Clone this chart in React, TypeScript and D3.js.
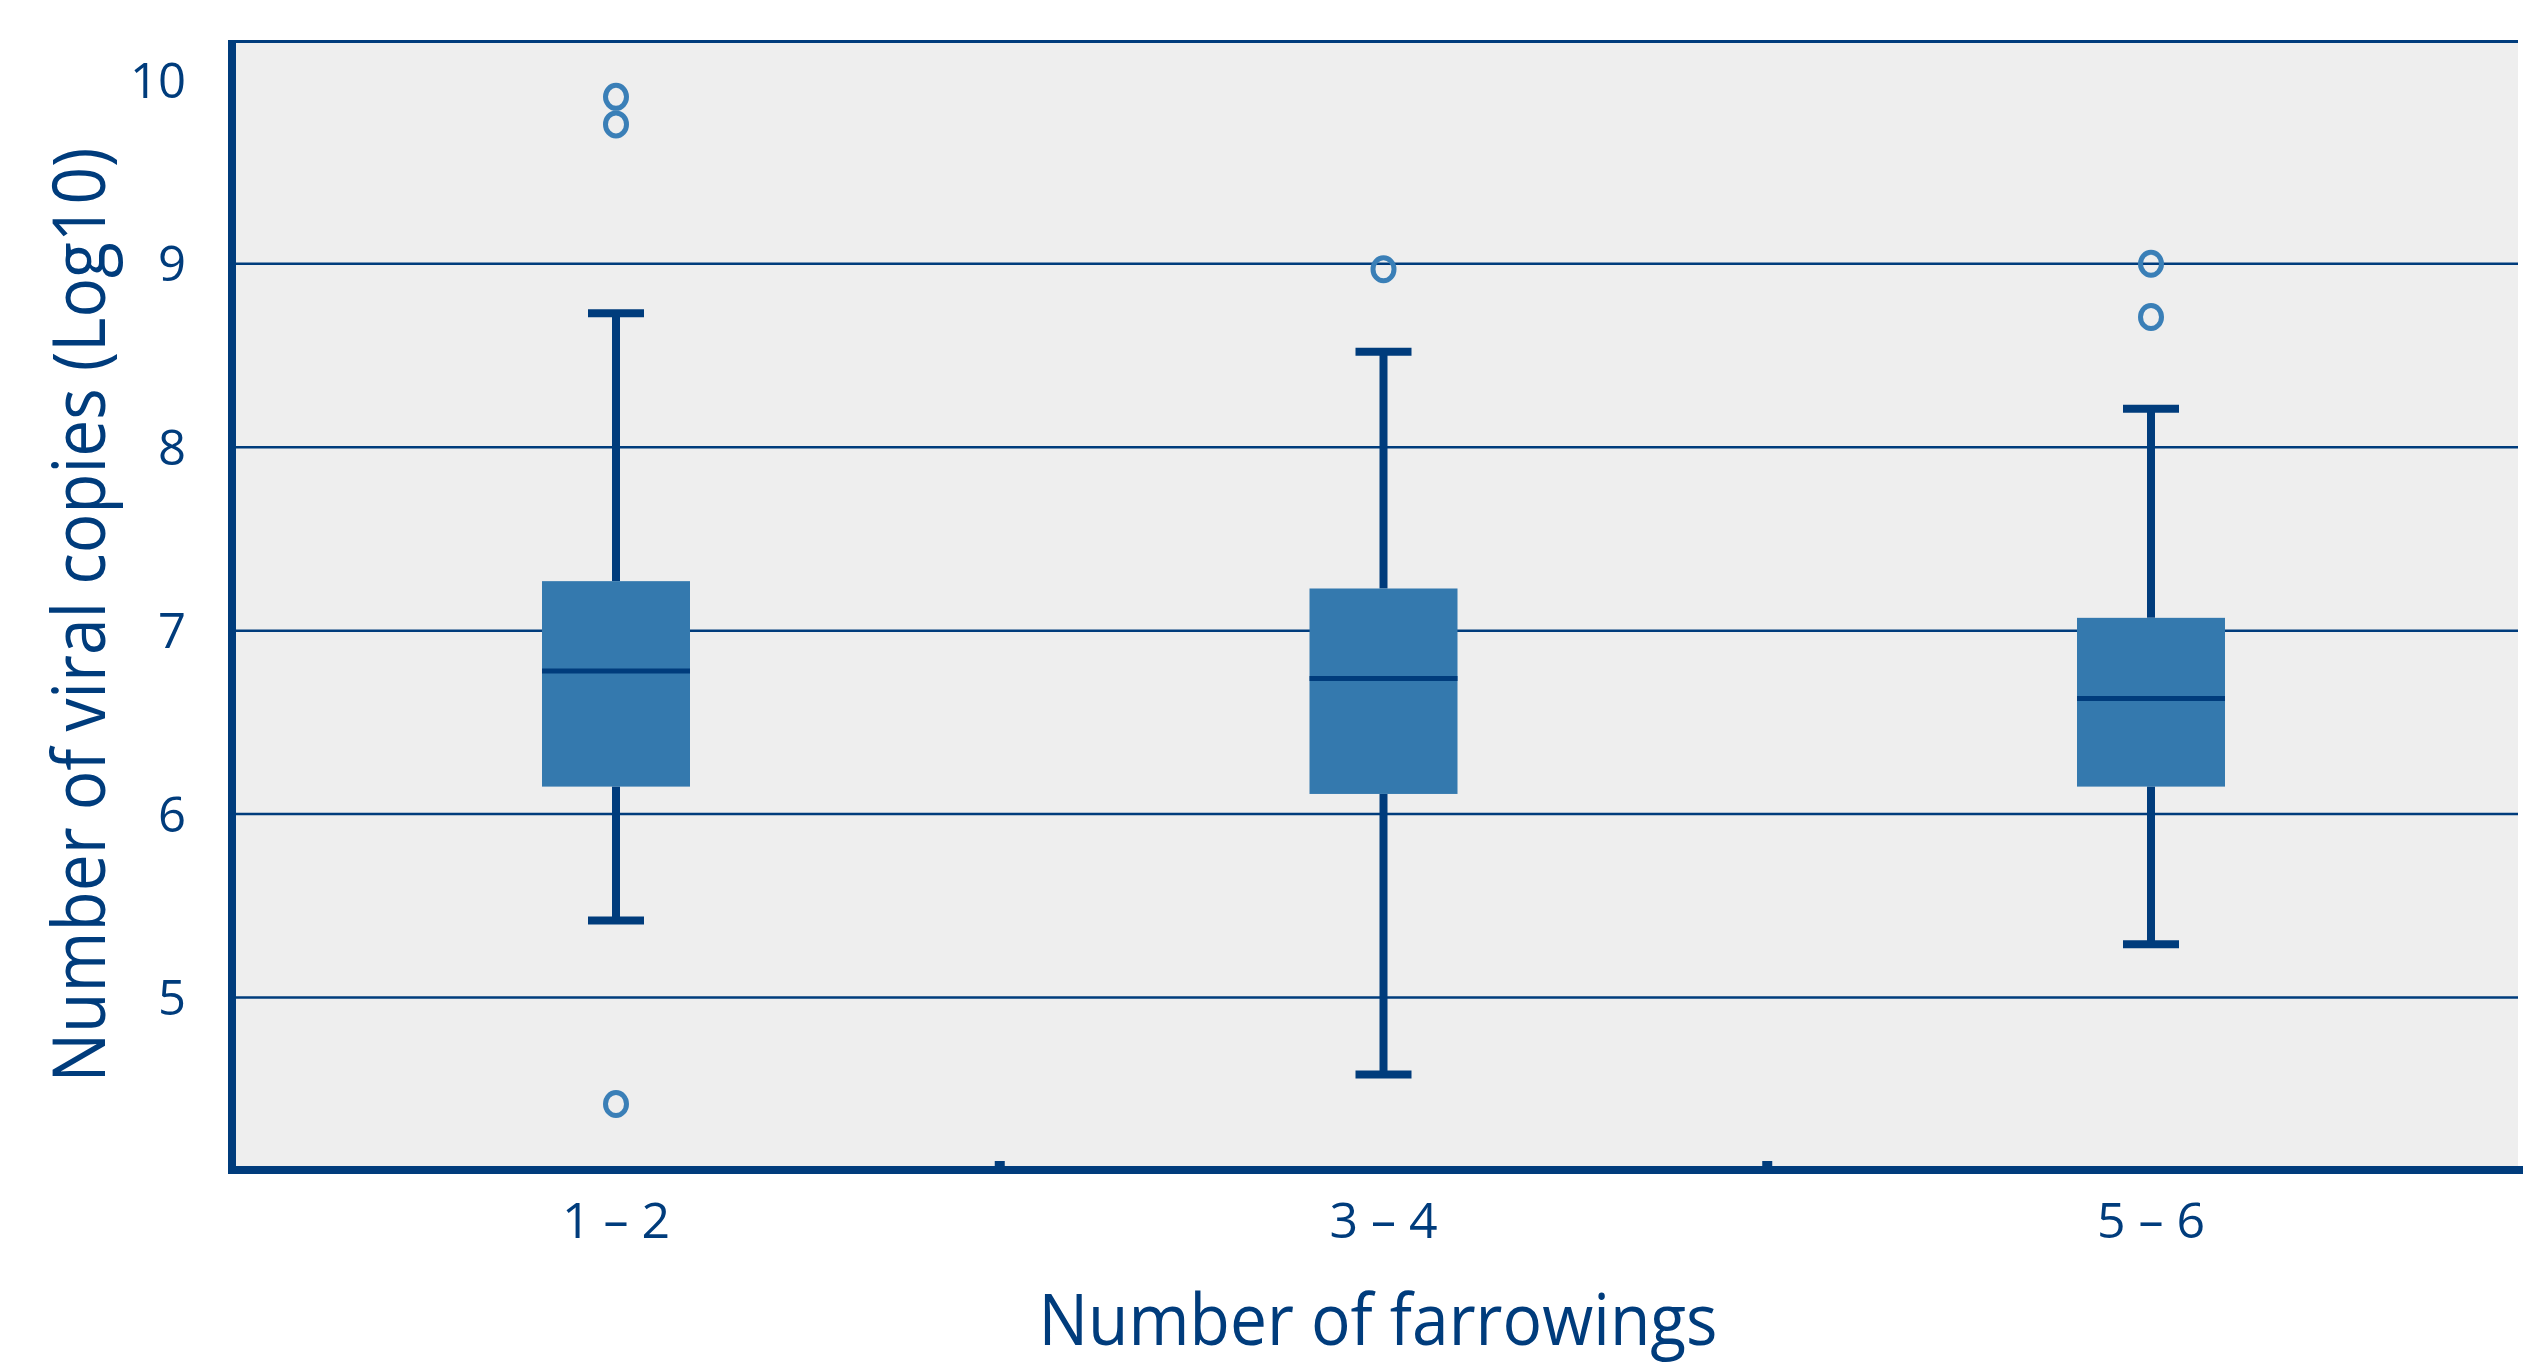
import React from "react";
import * as d3 from "d3";

const categories = ["1 – 2", "3 – 4", "5 – 6"];
const whiskerHigh = [8.73, 8.52, 8.21];
const q3Values = [7.27, 7.23, 7.07];
const medians = [6.78, 6.74, 6.63];
const q1Values = [6.15, 6.11, 6.15];
const whiskerLow = [5.42, 4.58, 5.29];
const outliers = [[9.91, 9.76, 4.42], [8.97], [9.0, 8.71]];
const yTicks = [5, 6, 7, 8, 9, 10];
const xTitle = "Number of farrowings";
const yTitle = "Number of viral copies (Log10)";

const W = 2523;
const H = 1367;
const NAVY = "#003c7c";
const BOX = "#3479ae";
const OUT = "#3a7fb7";
const FONT = "'Open Sans', 'Noto Sans', sans-serif";

export default function App() {
  const plotLeft = 233;
  const plotRight = 2518;
  const plotTop = 40;
  const plotBottom = 1170;

  const y = d3.scaleLinear().domain([4.06, 10.22]).range([plotBottom, plotTop]);
  const x = d3.scalePoint<string>().domain(categories).range([616, 2151]);

  const boxW = 148;
  const capW = 56;

  const dividers = categories.slice(1).map((c, i) => {
    const a = x(categories[i]) as number;
    const b = x(c) as number;
    return (a + b) / 2;
  });

  return (
    <svg
      width={W}
      height={H}
      viewBox={`0 0 ${W} ${H}`}
      style={{ position: "absolute", left: 0, top: 0, background: "#ffffff" }}
    >
      <rect x={plotLeft} y={plotTop} width={plotRight - plotLeft} height={plotBottom - plotTop} fill="#eeeeee" />
      {yTicks.filter((t) => t < 10).map((t) => (
        <line key={"g" + t} x1={plotLeft} x2={plotRight} y1={y(t)} y2={y(t)} stroke={NAVY} strokeWidth={2.5} />
      ))}
      <line x1={plotLeft} x2={plotRight} y1={plotTop + 1.5} y2={plotTop + 1.5} stroke={NAVY} strokeWidth={3} />

      {categories.map((c, i) => {
        const cx = x(c) as number;
        return (
          <g key={c}>
            <line x1={cx} x2={cx} y1={y(whiskerHigh[i])} y2={y(q3Values[i])} stroke={NAVY} strokeWidth={8} />
            <line x1={cx} x2={cx} y1={y(q1Values[i])} y2={y(whiskerLow[i])} stroke={NAVY} strokeWidth={8} />
            <line x1={cx - capW / 2} x2={cx + capW / 2} y1={y(whiskerHigh[i])} y2={y(whiskerHigh[i])} stroke={NAVY} strokeWidth={8} />
            <line x1={cx - capW / 2} x2={cx + capW / 2} y1={y(whiskerLow[i])} y2={y(whiskerLow[i])} stroke={NAVY} strokeWidth={8} />
            <rect
              x={cx - boxW / 2}
              y={y(q3Values[i])}
              width={boxW}
              height={y(q1Values[i]) - y(q3Values[i])}
              fill={BOX}
            />
            <line x1={cx - boxW / 2} x2={cx + boxW / 2} y1={y(medians[i])} y2={y(medians[i])} stroke={NAVY} strokeWidth={5} />
            {outliers[i].map((v, j) => (
              <ellipse key={j} cx={cx} cy={y(v)} rx={10.5} ry={11.5} fill="none" stroke={OUT} strokeWidth={5} />
            ))}
          </g>
        );
      })}

      {/* axes */}
      <line x1={plotLeft - 1} x2={plotLeft - 1} y1={plotTop} y2={plotBottom + 4} stroke={NAVY} strokeWidth={8} />
      <line x1={plotLeft - 5} x2={W} y1={plotBottom} y2={plotBottom} stroke={NAVY} strokeWidth={8} />
      {dividers.map((d, i) => (
        <rect key={"t" + i} x={d - 5} y={plotBottom - 9} width={10} height={6} fill={NAVY} />
      ))}

      {yTicks.map((t) => (
        <text
          key={"yl" + t}
          x={186}
          y={y(t) + 17.5}
          textAnchor="end"
          fontFamily={FONT}
          fontSize={49}
          fill={NAVY}
        >
          {t}
        </text>
      ))}
      {categories.map((c) => (
        <text
          key={"xl" + c}
          x={x(c) as number}
          y={1238}
          textAnchor="middle"
          fontFamily={FONT}
          fontSize={50}
          fill={NAVY}
        >
          {c}
        </text>
      ))}

      <text
        x={1378}
        y={1345}
        textAnchor="middle"
        fontFamily={FONT}
        fontSize={72}
        fill={NAVY}
        textLength={679}
        lengthAdjust="spacingAndGlyphs"
      >
        {xTitle}
      </text>
      <text
        transform={`translate(105, ${(145 + 1085) / 2}) rotate(-90)`}
        textAnchor="middle"
        fontFamily={FONT}
        fontSize={74}
        fill={NAVY}
        textLength={935}
        lengthAdjust="spacingAndGlyphs"
      >
        {yTitle}
      </text>
    </svg>
  );
}
